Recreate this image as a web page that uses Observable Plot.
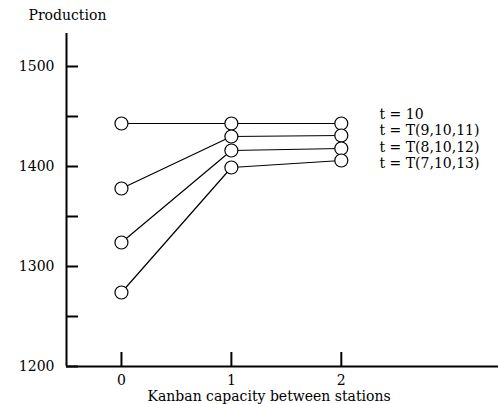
<!DOCTYPE html>
<html>
<head>
<meta charset="utf-8">
<script src="https://cdn.jsdelivr.net/npm/d3@7"></script>
<script src="https://cdn.jsdelivr.net/npm/@observablehq/plot@0.6"></script>
<style>
  html, body { margin: 0; padding: 0; background: #fff; }
  #chart svg { display: block; }
  #chart svg text { font-family: "DejaVu Serif", serif; }
</style>
</head>
<body>
<div id="chart"></div>
<script>
// ---- data ----
const capacity = [0, 1, 2];
const seriesNames = ["t = 10", "t = T(9,10,11)", "t = T(8,10,12)", "t = T(7,10,13)"];
const prodT10 = [1443, 1443, 1443];
const prodT9 = [1378, 1430, 1431];
const prodT8 = [1324, 1416, 1418];
const prodT7 = [1274, 1399, 1406];
const xTicks = [0, 1, 2];
const yTicks = [1200, 1250, 1300, 1350, 1400, 1450, 1500];
const yTickLabels = [1200, 1300, 1400, 1500];

const allSeries = [prodT10, prodT9, prodT8, prodT7];
const rows = [];
allSeries.forEach((vals, i) => vals.forEach((v, j) => rows.push({series: seriesNames[i], x: capacity[j], y: v})));

const W = 498, H = 404;
const mL = 66, mR = 0, mT = 33, mB = 38;
const xDomain = [-0.5, 3.43];
const yDomain = [1200, 1533];
const font = "DejaVu Serif";

const plot = Plot.plot({
  width: W,
  height: H,
  marginLeft: mL,
  marginRight: mR,
  marginTop: mT,
  marginBottom: mB,
  style: {fontFamily: font, fontSize: "14px", background: "#fff", color: "#000", overflow: "visible"},
  x: {domain: xDomain, axis: null},
  y: {domain: yDomain, axis: null},
  marks: [
    // axis lines
    Plot.ruleX([xDomain[0]], {stroke: "#000", strokeWidth: 2}),
    Plot.ruleY([yDomain[0]], {stroke: "#000", strokeWidth: 2}),
    // inward ticks
    Plot.tickY(yTicks, {y: d => d, stroke: "#000", strokeWidth: 2, insetRight: W - mL - mR - 12}),
    Plot.tickX(xTicks, {x: d => d, stroke: "#000", strokeWidth: 2, insetTop: H - mT - mB - 14}),
    // tick labels
    Plot.text(yTickLabels, {y: d => d, text: d => String(d), frameAnchor: "left", dx: -12, textAnchor: "end", fontFamily: font, fontSize: 14, fill: "#000"}),
    Plot.text(xTicks, {x: d => d, text: d => String(d), frameAnchor: "bottom", dy: 14, lineAnchor: "middle", fontFamily: font, fontSize: 14, fill: "#000"}),
    // axis titles
    Plot.text(["Production"], {frameAnchor: "top-left", dx: 28 - mL, dy: 15 - mT, textAnchor: "start", lineAnchor: "middle", fontFamily: font, fontSize: 14, fill: "#000"}),
    Plot.text(["Kanban capacity between stations"], {frameAnchor: "bottom-left", dx: 147 - mL, dy: 30, textAnchor: "start", lineAnchor: "middle", fontFamily: font, fontSize: 14, fill: "#000"}),
    // data lines and markers
    Plot.line(rows, {x: "x", y: "y", z: "series", stroke: "#000", strokeWidth: 1.2}),
    Plot.dot(rows, {x: "x", y: "y", r: 6.5, fill: "#fff", stroke: "#000", strokeWidth: 1.2}),
    // legend labels
    Plot.text([seriesNames.join("\n")], {frameAnchor: "top-left", dx: 379 - mL, dy: 137.5 - mT, textAnchor: "start", lineAnchor: "middle", lineHeight: 1.18, fontFamily: font, fontSize: 14, fill: "#000"})
  ]
});
document.getElementById("chart").appendChild(plot);
</script>
</body>
</html>
